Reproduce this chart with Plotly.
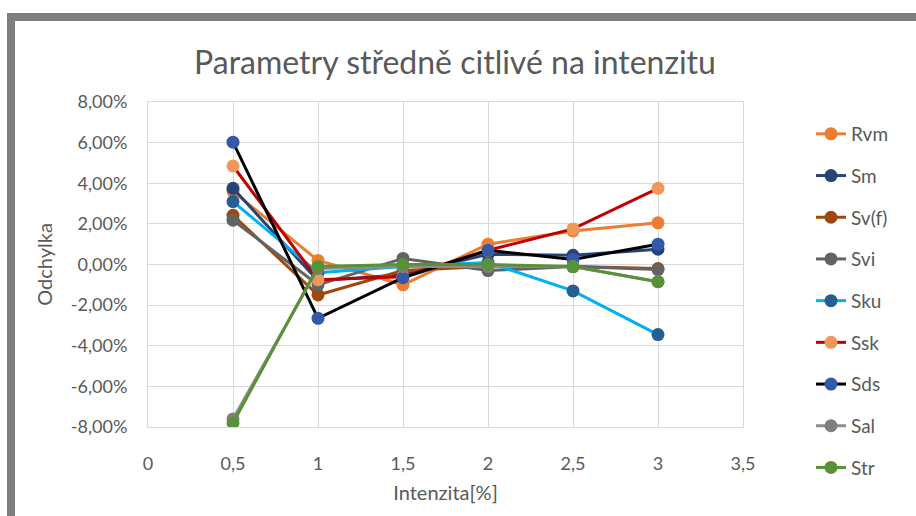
import plotly.graph_objects as go

x_vals = [0.5, 1, 1.5, 2, 2.5, 3]
series_names = ["Rvm", "Sm", "Sv(f)", "Svi", "Sku", "Ssk", "Sds", "Sal", "Str"]

rvm = [0.0360, 0.0020, -0.0100, 0.0100, 0.0165, 0.0205]
sm = [0.0375, -0.0080, -0.0050, 0.0050, 0.0045, 0.0075]
svf = [0.0242, -0.0150, -0.0030, -0.0010, -0.0010, -0.0020]
svi = [0.0218, -0.0100, 0.0030, -0.0030, -0.0010, -0.0025]
sku = [0.0310, -0.0040, -0.0010, 0.0010, -0.0130, -0.0345]
ssk = [0.0485, -0.0075, -0.0060, 0.0070, 0.0175, 0.0375]
sds = [0.0602, -0.0265, -0.0065, 0.0070, 0.0025, 0.0100]
sal = [-0.0760, -0.0020, -0.0010, -0.0010, -0.0010, -0.0085]
strv = [-0.0780, -0.0010, 0.0000, 0.0000, -0.0010, -0.0085]
series_values = [rvm, sm, svf, svi, sku, ssk, sds, sal, strv]

x_ticks = [0, 0.5, 1, 1.5, 2, 2.5, 3, 3.5]
x_tick_labels = ["0", "0,5", "1", "1,5", "2", "2,5", "3", "3,5"]
y_ticks = [-0.08, -0.06, -0.04, -0.02, 0, 0.02, 0.04, 0.06, 0.08]
y_tick_labels = ["-8,00%", "-6,00%", "-4,00%", "-2,00%", "0,00%", "2,00%", "4,00%", "6,00%", "8,00%"]

title_text = "Parametry středně citlivé na intenzitu"
x_title = "Intenzita[%]"
y_title = "Odchylka"

line_colors = ["#ED7D31", "#264478", "#9E480E", "#636363", "#00B0F0", "#C00000", "#000000", "#8C8C8C", "#5A9138"]
marker_colors = ["#ED7D31", "#264478", "#9E480E", "#636363", "#255E91", "#F1975A", "#3359A8", "#7F7F7F", "#5A9138"]

W, H = 916, 516
L, R, T, B = 148, 743, 102, 427

fig = go.Figure()
for name, vals, lc, mc in zip(series_names, series_values, line_colors, marker_colors):
    fig.add_trace(go.Scatter(
        x=x_vals, y=vals, name=name, mode="lines+markers", legendgroup=name,
        line=dict(color=lc, width=3),
        marker=dict(color=mc, size=13, line=dict(width=0)),
    ))

def px2paper_x(px):
    return (px - L) / (R - L)

def px2paper_y(py):
    return (B - py) / (B - T)

frame_col = "#7F7F7F"
shapes = [
    dict(type="rect", xref="paper", yref="paper",
         x0=px2paper_x(7), x1=px2paper_x(15), y0=px2paper_y(530), y1=px2paper_y(13),
         fillcolor=frame_col, line=dict(width=0), layer="above"),
    dict(type="rect", xref="paper", yref="paper",
         x0=px2paper_x(7), x1=px2paper_x(930), y0=px2paper_y(21), y1=px2paper_y(13),
         fillcolor=frame_col, line=dict(width=0), layer="above"),
]

font_family = "Lato, 'Open Sans', sans-serif"
txt_col = "#595959"

fig.update_layout(
    width=W, height=H,
    margin=dict(l=L, r=W - R, t=T, b=H - B, pad=0),
    paper_bgcolor="white", plot_bgcolor="white",
    font=dict(family=font_family, size=18, color=txt_col),
    title=dict(text=title_text, x=px2paper_x(455), xref="paper", xanchor="center",
               y=1 - 63 / H, yanchor="middle", automargin=False,
               font=dict(family=font_family, size=32, color=txt_col)),
    xaxis=dict(range=[0, 3.5], tickvals=x_ticks, ticktext=x_tick_labels,
               showgrid=True, gridcolor="#D9D9D9", gridwidth=1,
               showline=True, linecolor="#D9D9D9", linewidth=1, mirror=True,
               zeroline=False, ticks="", ticklabelstandoff=20, automargin=False,
               tickfont=dict(size=18),
               title=dict(text=x_title, standoff=13, font=dict(size=20, color=txt_col))),
    yaxis=dict(range=[-0.08, 0.08], tickvals=y_ticks, ticktext=y_tick_labels,
               showgrid=True, gridcolor="#D9D9D9", gridwidth=1,
               showline=True, linecolor="#D9D9D9", linewidth=1, mirror=True,
               zeroline=False, ticks="", ticklabelstandoff=16, automargin=False,
               tickfont=dict(size=18),
               title=dict(text=y_title, standoff=12, font=dict(size=20, color=txt_col))),
    legend=dict(x=px2paper_x(811), xanchor="left", y=px2paper_y(115), yanchor="top",
                tracegroupgap=14, font=dict(size=19, color=txt_col),
                bgcolor="rgba(0,0,0,0)", maxheight=420),
    shapes=shapes,
)

fig.write_html("out.html", config={"displayModeBar": False},
               post_script="document.body.style.margin='0';")
